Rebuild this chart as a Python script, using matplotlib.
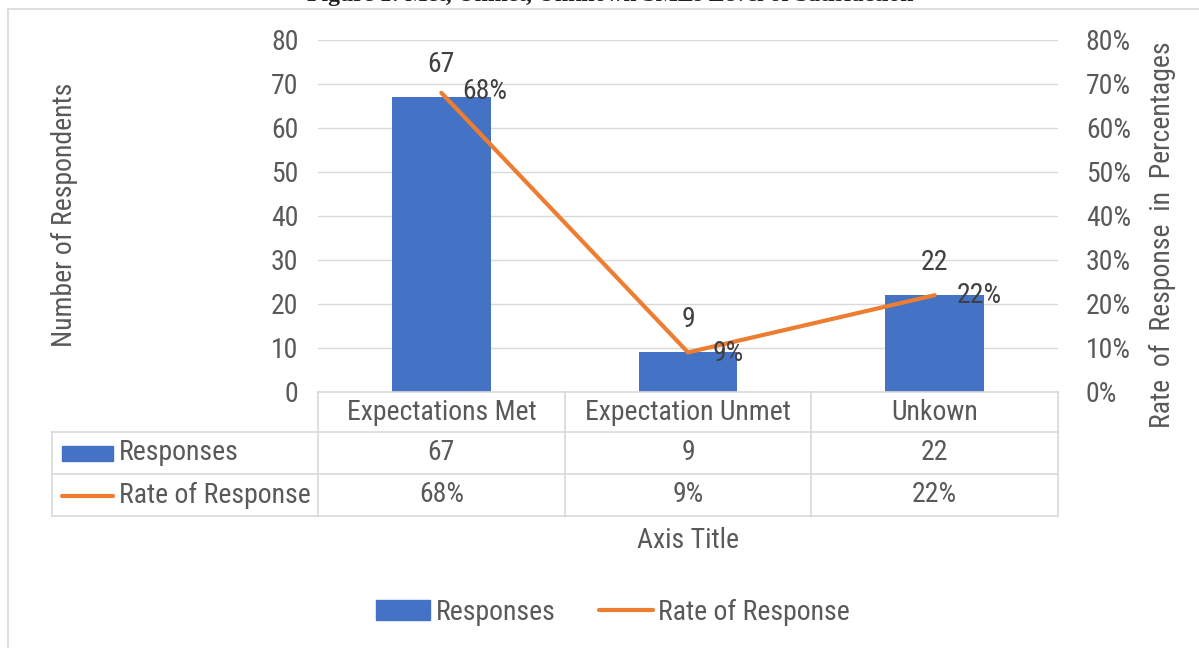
import numpy as np
import matplotlib.pyplot as plt
from matplotlib import font_manager
from matplotlib.patches import Rectangle
from matplotlib.lines import Line2D
import matplotlib.transforms as mtransforms

# prefer a narrow sans if one is around, else plain Liberation Sans a bit smaller
have = {f.name for f in font_manager.fontManager.ttflist}
narrow = [n for n in ['Liberation Sans Narrow', 'Arial Narrow', 'Roboto Condensed',
                      'Open Sans Condensed'] if n in have]
if narrow:
    plt.rcParams['font.family'] = [narrow[0], 'DejaVu Sans']
    fs = 20
else:
    plt.rcParams['font.family'] = ['Liberation Sans', 'DejaVu Sans']
    fs = 17

categories = ['Expectations Met', 'Expectation Unmet', 'Unkown']
responses = [67, 9, 22]
rate = [0.68, 0.09, 0.22]
rate_labels = ['68%', '9%', '22%']

blue = '#4472c4'
orange = '#ed7d31'
txt = '#595959'
grid = '#d9d9d9'

W, H = 1199, 648
fig = plt.figure(figsize=(W / 100, H / 100), dpi=100)

# plot area in pixel coords
x0, x1, y_top, y_bot = 318, 1058, 40, 392
ax = fig.add_axes([x0 / W, 1 - y_bot / H, (x1 - x0) / W, (y_bot - y_top) / H])
ax2 = ax.twinx()

x = np.arange(len(categories))
ax.bar(x, responses, width=0.4, color=blue, zorder=2)
ax.set_xlim(-0.5, 2.5)
ax.set_ylim(0, 80)
ax.set_yticks(range(0, 81, 10))
for v in range(10, 81, 10):
    ax.axhline(v, color=grid, lw=1, zorder=0)

ax2.plot(x, rate, color=orange, lw=3, solid_capstyle='round', zorder=3)
ax2.set_ylim(0, 0.8)
ax2.set_yticks(np.arange(0, 0.81, 0.1))
ax2.set_yticklabels([f'{int(round(v * 100))}%' for v in np.arange(0, 0.81, 0.1)])

for a in (ax, ax2):
    for s in a.spines.values():
        s.set_visible(False)
    a.tick_params(length=0, labelsize=fs, labelcolor=txt, pad=14)
ax.set_xticks([])
ax.set_zorder(ax2.get_zorder() - 1)
ax.patch.set_visible(False)
ax2.tick_params(pad=20)

# data labels
for xi, v in zip(x, responses):
    ax.annotate(str(v), (xi, v), xytext=(0, 14), textcoords='offset points',
                ha='center', va='bottom', fontsize=fs, color='#404040')
line_offsets = [(15, 1), (18, -1), (16, 0)]
for xi, v, lab, off in zip(x, rate, rate_labels, line_offsets):
    ax2.annotate(lab, (xi, v), xytext=off, textcoords='offset points',
                 ha='left', va='center', fontsize=fs, color='#404040')

ax.set_ylabel('Number of Respondents', fontsize=fs, color=txt)
ax.yaxis.set_label_coords((78 - x0) / (x1 - x0), (y_bot - 215) / (y_bot - y_top))
ax2.set_ylabel('Rate  of  Response  in  Percentages', fontsize=fs, color=txt, rotation=90)
ax2.yaxis.set_label_coords((1149 - x0) / (x1 - x0), (y_bot - 235) / (y_bot - y_top))

# data table under the plot
trans = mtransforms.blended_transform_factory(ax.transData, fig.transFigure)
ftrans = fig.transFigure


def fy(py):
    return 1 - py / H


def fx(px):
    return px / W


rows = [392, 432, 474, 516]
lw = 1.2
for b in [-0.5, 0.5, 1.5, 2.5]:
    fig.add_artist(Line2D([b, b], [fy(rows[0]), fy(rows[-1])], transform=trans, color=grid, lw=lw))
fig.add_artist(Line2D([fx(x0), fx(x1)], [fy(rows[0])] * 2, transform=ftrans, color=grid, lw=lw))
for r in rows[1:]:
    fig.add_artist(Line2D([fx(52), fx(x1)], [fy(r)] * 2, transform=ftrans, color=grid, lw=lw))
fig.add_artist(Line2D([fx(52)] * 2, [fy(rows[1]), fy(rows[-1])], transform=ftrans, color=grid, lw=lw))

for xi, c, v, lab in zip(x, categories, responses, rate_labels):
    fig.text(xi, fy(412), c, transform=trans, ha='center', va='center', fontsize=fs, color=txt)
    fig.text(xi, fy(453), str(v), transform=trans, ha='center', va='center', fontsize=fs, color=txt)
    fig.text(xi, fy(495), lab, transform=trans, ha='center', va='center', fontsize=fs, color=txt)

fig.add_artist(Rectangle((fx(62), fy(461)), fx(113) - fx(62), fy(446) - fy(461),
                         transform=ftrans, color=blue))
fig.add_artist(Line2D([fx(62), fx(113)], [fy(496)] * 2, transform=ftrans,
                      color=orange, lw=3, solid_capstyle='round'))
fig.text(fx(119), fy(453), 'Responses', ha='left', va='center', fontsize=fs, color=txt)
fig.text(fx(119), fy(495), 'Rate of Response', ha='left', va='center', fontsize=fs, color=txt)

fig.text(fx(688), fy(540), 'Axis Title', ha='center', va='center', fontsize=fs, color=txt)

handles = [Rectangle((0, 0), 1, 1, color=blue),
           Line2D([0], [0], color=orange, lw=3, solid_capstyle='round')]
leg = fig.legend(handles, ['Responses', 'Rate of Response'], loc='center',
                 bbox_to_anchor=(fx(613), fy(612)), ncol=2, frameon=False,
                 fontsize=fs, handlelength=1.95, handletextpad=0.2, columnspacing=1.55)
for t in leg.get_texts():
    t.set_color(txt)

# chart border and cut-off heading
fig.add_artist(Line2D([fx(8), 1], [fy(9)] * 2, transform=ftrans, color=grid, lw=1.2))
fig.add_artist(Line2D([fx(8)] * 2, [fy(9), 0], transform=ftrans, color=grid, lw=1.2))
fig.text(fx(610), fy(-4), 'Figure 1: Met, Unmet, Unknown SMEs Level of Satisfaction',
         ha='center', va='center', fontsize=17, fontweight='bold',
         family=['Liberation Serif', 'DejaVu Serif'], color='#222222')

fig.savefig('out.png', dpi=100)
